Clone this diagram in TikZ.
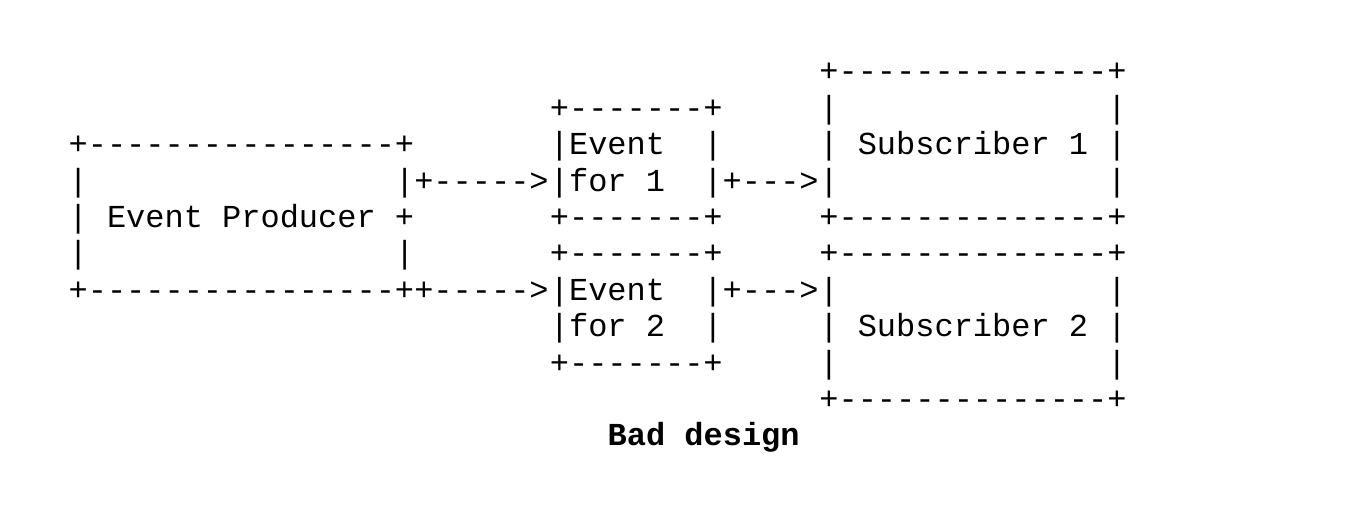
\documentclass[tikz,border=0pt]{standalone}
\usepackage{fontspec}
\setmonofont{Liberation Mono}
\tikzset{
  ascii/.style={anchor=base west, inner sep=0pt, outer sep=0pt,
    font=\ttfamily\fontsize{16}{18}\selectfont, text=black},
  asciibold/.style={ascii, font=\ttfamily\bfseries\fontsize{16}{18}\selectfont}
}
% column c, row r  ->  pixel position of the character cell (base line)
\newcommand{\cx}[1]{68.6+19.25*#1}
\newcommand{\ry}[1]{81.8+36.4*#1}
\begin{document}
\begin{tikzpicture}[x=0.5pt, y=-0.5pt]
\useasboundingbox (0,0) rectangle (1360,516);
% ---- Event Producer box
\node[ascii] (prodTop) at ({\cx{0}},{\ry{2}}) {+----------------+};
\node[ascii] (prodL1)  at ({\cx{0}},{\ry{3}}) {|~~~~~~~~~~~~~~~~|};
\node[ascii] (prod)    at ({\cx{0}},{\ry{4}}) {|~Event~Producer~+};
\node[ascii] (prodL3)  at ({\cx{0}},{\ry{5}}) {|~~~~~~~~~~~~~~~~|};
\node[ascii] (prodBot) at ({\cx{0}},{\ry{6}}) {+----------------+};
% ---- Event for 1 box
\node[ascii] (evAtop) at ({\cx{25}},{\ry{1}}) {+-------+};
\node[ascii] (evA)    at ({\cx{25}},{\ry{2}}) {|Event~~|};
\node[ascii] (evAl2)  at ({\cx{25}},{\ry{3}}) {|for~1~~|};
\node[ascii] (evAbot) at ({\cx{25}},{\ry{4}}) {+-------+};
% ---- Event for 2 box
\node[ascii] (evBtop) at ({\cx{25}},{\ry{5}}) {+-------+};
\node[ascii] (evB)    at ({\cx{25}},{\ry{6}}) {|Event~~|};
\node[ascii] (evBl2)  at ({\cx{25}},{\ry{7}}) {|for~2~~|};
\node[ascii] (evBbot) at ({\cx{25}},{\ry{8}}) {+-------+};
% ---- Subscriber 1 box
\node[ascii] (subAtop) at ({\cx{39}},{\ry{0}}) {+--------------+};
\node[ascii] (subAl1)  at ({\cx{39}},{\ry{1}}) {|~~~~~~~~~~~~~~|};
\node[ascii] (subA)    at ({\cx{39}},{\ry{2}}) {|~Subscriber~1~|};
\node[ascii] (subAl3)  at ({\cx{39}},{\ry{3}}) {|~~~~~~~~~~~~~~|};
\node[ascii] (subAbot) at ({\cx{39}},{\ry{4}}) {+--------------+};
% ---- Subscriber 2 box
\node[ascii] (subBtop) at ({\cx{39}},{\ry{5}}) {+--------------+};
\node[ascii] (subBl1)  at ({\cx{39}},{\ry{6}}) {|~~~~~~~~~~~~~~|};
\node[ascii] (subB)    at ({\cx{39}},{\ry{7}}) {|~Subscriber~2~|};
\node[ascii] (subBl3)  at ({\cx{39}},{\ry{8}}) {|~~~~~~~~~~~~~~|};
\node[ascii] (subBbot) at ({\cx{39}},{\ry{9}}) {+--------------+};
% ---- ASCII arrows (connectors)
\node[ascii] (arrPA) at (prodL1.base east) {+----->};
\node[ascii] (arrPB) at (prodBot.base east) {+----->};
\node[ascii] (arrAS) at (evAl2.base east) {+--->};
\node[ascii] (arrBS) at (evB.base east) {+--->};
% ---- caption
\node[asciibold] (caption) at ({\cx{28}},{\ry{10}}) {Bad~design};
\end{tikzpicture}
\end{document}
